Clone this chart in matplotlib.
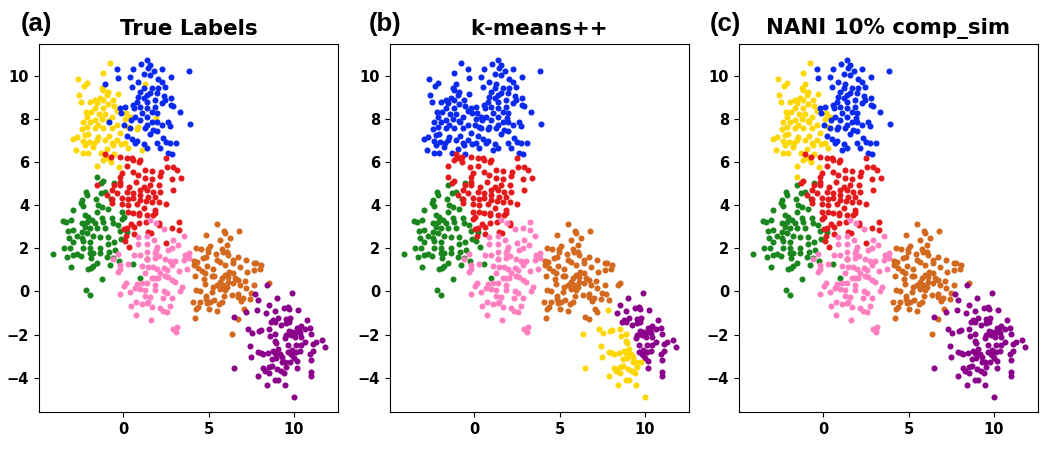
import numpy as np
import matplotlib
matplotlib.use("Agg")
import matplotlib.pyplot as plt

# points, grouped by true label
yellow = [(-0.75,10.59),(-1.18,10.14),(-2.65,9.82),(-2.12,9.64),(-2.26,9.51),(-1.22,9.4),(-0.85,9.25),(-1.15,9.33),
    (-0.27,9.16),(-2.57,9.1),(-0.95,9.1),(-1.34,8.97),(-1.63,8.86),(-2.47,8.79),(-1.93,8.79),(-1.15,8.86),(-0.56,8.86),
    (-1.53,8.71),(-0.85,8.66),(-0.52,8.6),(-1.63,8.48),(-1.15,8.48),(-0.37,8.35),(-2.16,8.32),(-1.87,8.32),(0.18,8.25),
    (-1.05,8.2),(-1.38,8.2),(0.41,8.09),(-2.12,8.09),(-0.66,8.09),(-2.35,7.86),(-1.63,7.94),(-1.24,7.98),(-0.85,7.89),
    (0.12,7.98),(-1.93,7.83),(-1.44,7.71),(-0.37,7.71),(-2.12,7.63),(-2.41,7.51),(-1.15,7.55),(-1.63,7.55),(-0.66,7.55),
    (0.32,7.63),(-2.02,7.28),(-2.22,7.24),(-0.17,7.32),(-0.79,7.21),(-2.9,7.07),(-2.67,7.14),
    (-1.44,7.17),(-1.53,7.01),(-2.31,6.98),(-1.96,6.94),(-1.05,7.01),(-0.37,7.01),(-1.69,6.86),(-2.22,6.78),(-0.6,6.78),
    (-0.66,6.86),(-0.11,6.81),(0.12,6.89),(0.28,6.66),(-2.72,6.55),(-1.73,6.7),(-0.95,6.6),(-2.06,6.39),
    (-2.31,6.43),(-1.28,6.39),(-0.52,6.35)]
# yellow in (a), blue in (b) and (c)
yellow_right = [(0.9,7.63),(0.8,7.52),(1.1,6.55),(1.29,9.59),(1.94,8.02)]
# yellow in (a) and (c), red in (b)
yellow_low = [(-1.01,6.24),(-1.15,6.09),(-0.85,6.16),(-0.7,6.01),(-1.52,5.82),(-0.23,5.78)]
blue = [(1.39,10.7),(1.06,10.53),(1.59,10.51),(1.49,10.36),(-0.33,10.3),(0.57,10.3),(1.84,10.22),(2.29,10.3),(3.87,10.21),
    (1.2,10.07),(1.55,10.02),(-0.27,9.9),(0.41,9.93),(2.81,9.94),(2.07,9.82),(2.27,9.68),(0.9,9.71),(0.55,9.48),
    (1.68,9.4),(2.07,9.4),(2.44,9.45),(1.2,9.4),(1.0,9.25),(1.98,9.17),(1.39,9.1),(0.9,9.02),(2.37,9.06),(2.79,8.97),
    (2.46,8.86),(1.88,8.86),(0.8,8.79),(1.39,8.79),(2.27,8.71),(2.81,8.63),(2.91,8.59),(0.61,8.63),(-0.17,8.48),(0.12,8.56),
    (1.0,8.56),(1.88,8.56),(0.67,8.48),(1.39,8.48),(-0.13,8.25),(3.34,8.31),(1.1,8.25),(1.68,8.32),(0.71,8.09),(1.39,8.09),
    (1.98,8.25),(1.0,7.94),(1.68,7.83),(1.98,7.83),(0.45,7.94),(2.66,7.86),(2.27,7.71),(2.72,7.66),(0.06,7.71),(1.39,7.71),
    (0.42,7.55),(1.29,7.55),(1.78,7.48),(1.98,7.43),(3.92,7.74),(1.59,7.27),(0.26,7.2),(0.51,7.04),(0.8,6.98),(0.71,6.86),
    (2.33,7.09),(2.52,6.94),(2.76,6.86),(3.09,6.86),(2.01,6.86),(1.2,6.81),(1.39,6.66),(2.19,6.66),(2.66,6.39),(2.89,6.38),
    (1.2,8.94),(1.59,9.17)]
# blue in (a) and (b), yellow in (c)
blue_left = [(-0.79,7.83),(-1.07,9.62)]
red = [(-0.17,6.24),(0.26,6.19),(0.51,6.19),(0.57,6.09),(1.0,6.09),(0.92,5.98),(2.5,6.19),(0.26,5.82),(2.56,5.75),(2.91,5.76),
    (3.16,5.62),(2.21,5.52),(1.29,5.62),(1.68,5.58),(0.61,5.52),(0.9,5.39),(-0.03,5.47),(-0.17,5.31),(-0.17,5.08),(2.17,5.36),
    (3.4,5.24),(2.87,5.19),(1.68,5.19),(1.29,5.24),(0.75,5.08),(2.11,4.93),(-0.52,4.93),(1.59,4.93),(1.2,4.85),(-0.17,4.93),
    (0.38,4.85),(-0.62,4.7),(-0.33,4.54),(1.0,4.7),(1.39,4.7),(1.78,4.62),(2.17,4.62),(2.95,4.68),(0.61,4.54),
    (0.22,4.62),(1.0,4.47),(1.49,4.39),(1.88,4.39),(-0.95,4.47),(-0.62,4.28),(-0.07,4.31),(0.32,4.28),(0.61,4.31),(1.0,4.23),
    (1.35,4.19),(1.68,4.13),(2.11,4.13),(2.52,4.07),(0.8,4.03),(0.32,4.0),(-0.07,4.03),(1.88,3.77),(1.2,3.85),(0.61,3.62),
    (0.96,3.54),(1.39,3.54),(1.78,3.54),(-0.66,4.08),(0.32,3.7),(0.94,3.62),(1.88,3.62),(1.35,3.2),(0.96,3.16),(0.47,3.13),
    (2.13,3.19),(2.13,3.08),(0.67,2.97),(0.67,2.66),(0.03,2.88),(0.18,2.59),(1.49,2.77),
    (1.64,2.69),(0.26,2.93),(-1.05,6.35),(-0.72,6.24)]
# red in (a) and (c), pink in (b)
red_low = [(3.3,3.23),(2.89,2.96),(3.28,2.85),(2.5,2.23),(1.39,1.52)]
# red in (a) and (c), green in (b)
red_corner = [(0.12,2.34),(0.36,2.08)]
# red in (a), green in (b) and (c)
red_left = [(-1.54,4.93)]
green = [(-0.52,5.04),(-2.18,4.62),(-2.12,4.47),(-1.3,4.58),(-1.03,4.62),(-1.57,4.28),
    (-2.41,4.24),(-0.7,4.27),(-2.45,4.08),(-2.35,3.96),(-1.44,4.0),(-1.24,3.9),(-0.85,3.8),(-1.5,3.7),(-2.9,3.77),
    (-2.22,3.54),(-2.02,3.47),(-3.52,3.28),(-3.35,3.2),(-3.06,3.31),(-2.41,3.16),(-2.12,3.23),(-1.83,3.31),
    (-1.63,3.16),(-1.24,3.39),(-1.15,3.23),(-0.66,3.39),(-0.56,3.16),(-0.27,3.08),(-2.22,3.0),(-1.93,2.93),
    (-1.53,2.93),(-1.05,2.93),(-3.19,2.8),(-2.9,2.85),(-2.41,2.77),(-2.12,2.69),(-0.17,2.8),(0.26,2.74),(-3.15,2.49),
    (-2.71,2.59),(-2.41,2.46),(-1.73,2.59),(-1.34,2.54),(-0.85,2.54),(-2.94,2.31),(-2.35,2.35),(-1.93,2.31),(-0.85,2.2),
    (-0.52,2.31),(-0.13,2.42),(-3.45,2.0),(-3.1,2.03),(-2.35,2.0),(-1.93,2.0),(-1.34,2.0),(-0.46,1.92),(-1.93,1.8),(-1.73,1.77),
    (-4.11,1.75),(-2.94,1.69),(-2.7,1.74),(-3.25,1.58),(-2.45,1.64),(-1.87,1.53),(-0.79,1.81),(-0.91,1.58),(-1.34,1.8),
    (-0.6,1.54),(-0.23,1.43),(-1.53,1.3),(-1.73,1.18),(-0.74,1.24),(0.61,1.29),(-3.02,1.12),(-2.06,1.03),(-1.87,1.1),(1.0,0.64),
    (-1.22,0.58),(-2.18,0.07),(-1.9,-0.15)]
# green in (a), red in (b) and (c)
green_right = [(-0.07,3.7),(0.03,3.43),(-0.07,3.34),(-1.18,5.13),(-1.28,5.01)]
# green in (a), red in (b), yellow in (c)
green_top = [(-1.53,5.29)]
pink = [(1.59,3.31),(1.92,3.16),(2.4,2.91),(3.59,2.59),(1.84,2.4),(0.9,2.18),(1.39,2.2),(1.39,2.55),(0.86,2.54),(2.95,2.38),
    (3.2,2.15),(2.85,2.0),(2.62,1.92),(1.98,2.05),(1.92,1.92),(1.39,1.85),(1.9,1.77),(2.11,1.64),(1.0,1.69),(0.65,1.69),
    (-0.29,1.74),(-0.6,1.49),(1.39,1.49),(1.9,1.53),(2.46,1.49),(2.72,1.43),(3.05,1.43),(3.63,1.69),(3.87,1.8),(3.57,1.46),
    (3.83,1.53),(-0.17,1.23),(0.32,1.27),(-0.17,1.04),(-0.27,0.89),(1.1,1.2),(1.49,1.12),(1.74,1.12),(1.98,1.03),(2.37,1.07),
    (2.85,1.23),(2.56,0.99),(3.3,0.97),(3.77,1.06),(1.29,0.84),(2.17,0.84),(2.46,0.72),(1.88,0.61),(1.68,0.61),(2.07,0.61),
    (2.66,0.69),(2.85,0.53),(3.05,0.46),(0.18,0.38),(0.03,0.27),(0.8,0.35),(1.1,0.38),(1.39,0.38),(1.88,0.3),(0.71,0.15),
    (1.0,0.1),(1.29,0.07),(1.88,0.07),(3.44,0.23),(3.34,0.0),(0.42,-0.01),(-0.17,-0.13),(2.37,0.0),(2.56,-0.08),(1.29,-0.21),
    (1.59,-0.24),(2.85,-0.3),(2.33,-0.32),(1.49,-0.47),(0.75,-0.47),(1.1,-0.6),(1.39,-0.55),(1.68,-0.73),(0.45,-0.67),
    (2.72,-0.67),(2.17,-0.78),(2.33,-0.9),(2.56,-0.93),(0.75,-1.07),(1.62,-1.32),(3.15,-1.66),(2.95,-1.75),(3.07,-1.86)]
brown = [(5.52,3.11),(5.91,2.8),(5.99,2.72),(6.79,2.78),(4.88,2.6),(6.28,2.49),(5.69,2.37),(6.08,2.17),(4.27,2.03),(4.54,1.98),
    (5.07,2.12),(4.95,1.95),(4.95,1.81),(5.77,1.95),(5.87,1.84),(6.07,1.84),(5.42,1.72),(6.16,1.69),(6.75,1.59),(7.22,1.47),
    (7.63,1.33),(7.76,1.33),(8.05,1.21),(8.02,1.02),(7.66,0.99),(7.27,0.9),(6.85,1.12),(6.45,1.46),(6.45,1.3),(5.48,1.46),
    (5.68,1.38),(5.97,1.22),(4.7,1.56),(4.86,1.59),(4.15,1.42),(4.31,1.38),(4.15,1.22),(4.41,1.07),(4.64,0.95),(4.8,0.87),
    (4.21,0.71),(4.93,1.18),(5.29,1.04),(5.19,0.73),(5.34,0.73),(4.76,0.58),(4.82,0.34),(6.22,0.92),(6.45,0.84),(5.97,0.76),
    (5.77,0.61),(6.16,0.68),(6.55,0.61),(6.75,0.53),(5.67,0.45),(5.52,0.31),(5.87,0.3),(6.16,0.45),(6.45,0.38),(6.85,0.3),
    (7.12,0.48),(7.63,0.28),(7.22,0.17),(8.56,0.38),(6.1,0.19),(5.67,0.1),(5.97,0.07),(6.36,-0.16),(5.25,0.19),(5.19,-0.01),
    (4.27,0.07),(4.51,0.03),(7.47,-0.09),(5.93,-0.21),(6.75,-0.12),(6.75,-0.27),(4.86,-0.2),(4.86,-0.37),(5.09,-0.47),
    (5.32,-0.4),(7.0,-0.32),(6.92,-0.46),(7.43,-0.37),(5.77,-0.47),(5.62,-0.6),(4.08,-0.5),(4.49,-0.5),(4.9,-0.55),(4.39,-0.74),
    (4.27,-0.81),(5.03,-0.8),(5.48,-0.91),(7.08,-0.83),(4.23,-1.21),(6.75,-1.26)]
brown_far = [(6.38,-1.97)]
# true purple that k-means++ puts in the brown cluster
purple_edge = [(8.4,0.3),(7.72,-0.1),(7.92,-0.4),(6.51,-1.2),(7.2,-0.95)]
purple = [(9.89,-0.05),(8.99,-0.32),(8.56,-0.61),(8.36,-1.0),(8.87,-0.9),(9.44,-0.78),(9.67,-0.73),(9.73,-0.82),(10.22,-0.87),
    (9.07,-1.24),(8.77,-1.32),(8.68,-1.43),(8.87,-1.43),(9.52,-1.29),(9.77,-1.24),(9.71,-1.43),(9.55,-1.44),(10.74,-1.3),
    (9.22,-1.55),(10.39,-1.6),(10.2,-1.7),(10.3,-1.78),(10.65,-1.72),(10.94,-1.7),(10.98,-1.97),(9.71,-1.81),(9.9,-1.86),
    (10.14,-1.86),(10.33,-1.94),(9.55,-2.01),(9.81,-2.01),(9.48,-2.17),(10.06,-2.09),(10.39,-2.12),(11.66,-2.23),(11.8,-2.55),
    (11.27,-2.34),(11.11,-2.43),(10.65,-2.35),(10.39,-2.48),(9.65,-2.49),(10.1,-2.48),(9.67,-2.78),(9.9,-2.71),(10.1,-2.78),
    (10.33,-2.75),(11.11,-2.74),(10.92,-2.91),(9.81,-2.91),(9.9,-2.94),(10.0,-3.06),(10.2,-3.2),(10.98,-3.17),(10.16,-3.54),
    (11.02,-3.74),(11.02,-3.91)]
# true purple that k-means++ paints yellow
purple_low = [(7.86,-0.86),(7.31,-1.75),(7.53,-1.94),(7.95,-1.83),(8.05,-1.78),(8.54,-1.72),(8.58,-2.06),(8.87,-1.97),(8.87,-2.28),
    (8.97,-2.37),(7.43,-2.52),(7.49,-3.05),(7.88,-2.78),(8.07,-2.86),(8.19,-2.89),(8.5,-2.83),(8.77,-2.77),(8.89,-2.86),
    (9.07,-2.68),(9.16,-2.89),(8.74,-3.14),(8.93,-3.09),(9.28,-3.02),(9.28,-3.28),(9.48,-3.28),(9.75,-3.25),(9.55,-3.48),
    (6.51,-3.53),(8.19,-3.54),(8.54,-3.51),(8.74,-3.45),(8.31,-3.66),(8.54,-3.79),(9.03,-3.6),(9.26,-3.68),(9.42,-3.76),
    (7.88,-3.91),(8.87,-4.08),(9.09,-4.08),(8.44,-4.31),(9.48,-4.31),(10.0,-4.87)]

titles = ["True Labels", "k-means++", "NANI 10% comp_sim"]
letters = ["(a)", "(b)", "(c)"]

c_yellow = "#ffd700"
c_blue = "#0a2af0"
c_red = "#e41a1c"
c_green = "#1a861e"
c_pink = "#ff7fc0"
c_brown = "#d2691e"
c_purple = "#8b008b"

true_groups = [(yellow + yellow_right + yellow_low, c_yellow), (blue + blue_left, c_blue),
               (green + green_right + green_top, c_green), (red + red_low + red_corner + red_left, c_red), (pink, c_pink),
               (brown + brown_far, c_brown), (purple + purple_low + purple_edge, c_purple)]
kmeans_groups = [(yellow + yellow_right + blue + blue_left, c_blue), (green + red_corner + red_left, c_green),
                 (red + yellow_low + green_right + green_top, c_red), (pink + red_low, c_pink),
                 (brown + purple_edge, c_brown), (purple, c_purple), (purple_low + brown_far, c_yellow)]
nani_groups = [(yellow + yellow_low + blue_left + green_top, c_yellow), (blue + yellow_right, c_blue),
               (green + red_left, c_green), (red + red_low + red_corner + green_right, c_red), (pink, c_pink),
               (brown + brown_far, c_brown), (purple + purple_low + purple_edge, c_purple)]
panels = [true_groups, kmeans_groups, nani_groups]

fig = plt.figure(figsize=(10.5, 4.5), dpi=100)
lefts = [39, 390, 739]
letter_x = [21, 369, 710]
for i in range(3):
    ax = fig.add_axes([lefts[i] / 1050, 1 - 412 / 450, 299 / 1050, 368 / 450])
    for pts, col in panels[i]:
        pts = np.array(pts)
        ax.scatter(pts[:, 0], pts[:, 1], s=19, c=col, linewidths=0)
    ax.set_xlim(-4.91, 12.57)
    ax.set_ylim(-5.58, 11.46)
    ax.set_xticks([0, 5, 10])
    ax.set_yticks([-4, -2, 0, 2, 4, 6, 8, 10])
    ax.tick_params(labelsize=10.5, length=3.5)
    for lab in ax.get_xticklabels() + ax.get_yticklabels():
        lab.set_fontweight("bold")
    ax.text(0.5, 1 + 5 / 368, titles[i], transform=ax.transAxes, ha="center", va="bottom",
            fontsize=15.4, fontweight="bold")
    fig.text(letter_x[i] / 1050, 1 - 31 / 450, letters[i], fontsize=18.5, fontweight="bold",
             family="Liberation Sans", ha="left", va="baseline")

fig.savefig("out.png", dpi=100)
